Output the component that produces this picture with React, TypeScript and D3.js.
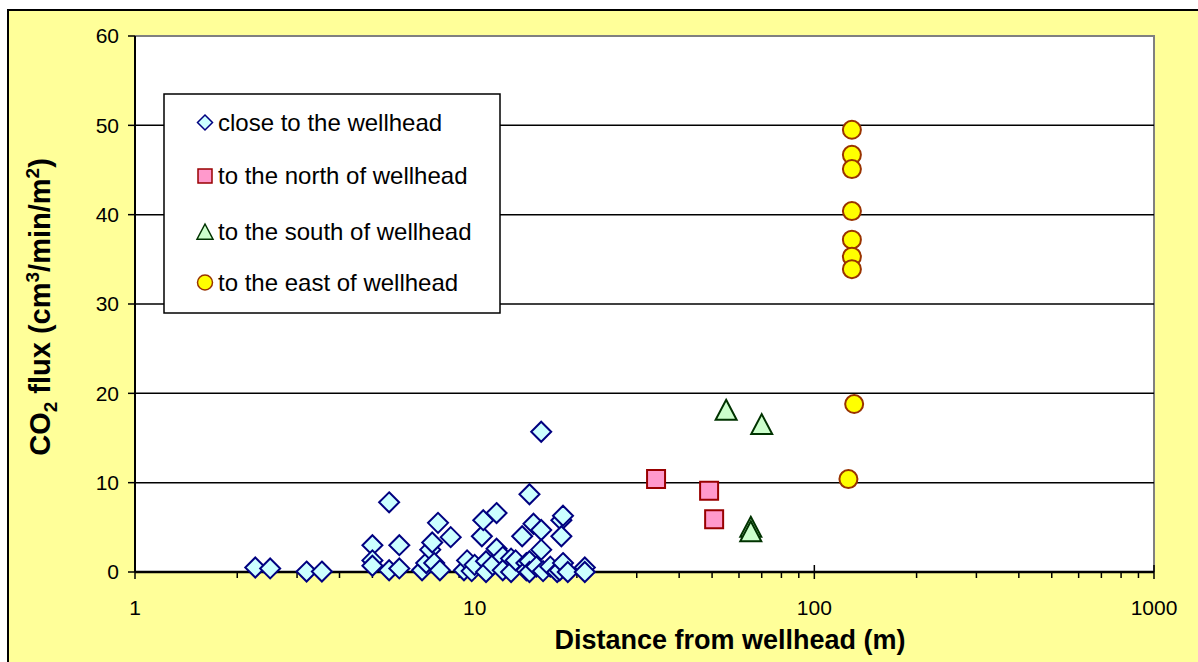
import { useEffect, useRef } from "react";
import * as d3 from "d3";

const W = 1198;
const H = 662;
const PLOT = { left: 135, right: 1154, top: 36, bottom: 572 };
const FONT = "'Liberation Sans', Arial, sans-serif";

// distance (m), flux (cm3/min/m2)
const closeDist = [
  2.26, 2.5, 3.2, 3.55, 5.0, 5.0, 5.0, 5.6, 5.6, 6.0, 6.0, 7.0, 7.2, 7.4, 7.5, 7.6, 7.8, 7.9, 8.5,
  9.3, 9.5, 9.8, 10.0, 10.5, 10.6, 10.8, 10.8, 11.3, 11.6, 11.6, 12.1, 12.1, 12.8, 12.8, 13.2, 13.8,
  14.2, 14.2, 14.5, 14.5, 14.5, 14.9, 15.2, 15.7, 15.7, 15.7, 15.9, 16.7, 17.5, 17.8, 18.0, 18.2,
  18.0, 18.2, 18.8, 21.1, 21.1,
];
const closeFlux = [
  0.5, 0.4, 0.05, 0.05, 3.0, 1.3, 0.7, 7.8, 0.2, 3.0, 0.4, 0.2, 1.0, 2.5, 3.3, 1.0, 5.5, 0.2, 3.9,
  0.2, 1.3, 0.1, 0.8, 4.0, 5.8, 1.2, 0.0, 0.8, 6.6, 2.6, 1.7, 0.2, 1.5, 0.0, 1.3, 4.0,
  1.0, 0.2, 8.7, 1.2, 0.0, 5.4, 0.6, 15.7, 4.7, 2.5, 0.1, 0.6, 0.0, 0.2, 5.8, 6.3,
  4.0, 1.0, 0.0, 0.5, 0.0,
];
const northDist = [34.2, 49, 50.7];
const northFlux = [10.4, 9.1, 5.9];
const southDist = [55, 70, 65, 65];
const southFlux = [18.1, 16.5, 5.0, 4.5];
const eastDist = [129, 129, 129, 129, 129, 129, 129, 131, 126];
const eastFlux = [49.5, 46.7, 45.1, 40.4, 37.2, 35.3, 33.9, 18.8, 10.4];

const yTicks = [0, 10, 20, 30, 40, 50, 60];
const xTicks = [1, 10, 100, 1000];

const legendLabels = [
  "close to the wellhead",
  "to the north of wellhead",
  "to the south of wellhead",
  "to the east of wellhead",
];

const diamond = (s: number) => `M0,${-s}L${s},0L0,${s}L${-s},0Z`;
const square = (s: number) => `M${-s},${-s}H${s}V${s}H${-s}Z`;
const triangle = (s: number) => `M0,${-s}L${s},${s * 0.9}L${-s},${s * 0.9}Z`;

const STYLES = [
  { fill: "#CCFFFF", stroke: "#000080" },
  { fill: "#FF99CC", stroke: "#990000" },
  { fill: "#CCFFCC", stroke: "#003300" },
  { fill: "#FFFF00", stroke: "#993300" },
];

export default function App() {
  const svgRef = useRef<SVGSVGElement | null>(null);

  useEffect(() => {
    const svg = d3.select(svgRef.current);
    svg.selectAll("*").remove();

    const x = d3.scaleLog().domain([1, 1000]).range([PLOT.left, PLOT.right]);
    const y = d3.scaleLinear().domain([0, 60]).range([PLOT.bottom, PLOT.top]);

    // chart frame
    svg
      .append("rect")
      .attr("x", 8)
      .attr("y", 10)
      .attr("width", W + 20)
      .attr("height", H + 20)
      .attr("fill", "#FFFF99")
      .attr("stroke", "#000")
      .attr("stroke-width", 2);

    // plot area
    svg
      .append("rect")
      .attr("x", PLOT.left)
      .attr("y", PLOT.top)
      .attr("width", PLOT.right - PLOT.left)
      .attr("height", PLOT.bottom - PLOT.top)
      .attr("fill", "#fff");
    svg
      .append("path")
      .attr("d", `M${PLOT.left},${PLOT.top}H${PLOT.right}V${PLOT.bottom}`)
      .attr("fill", "none")
      .attr("stroke", "#808080")
      .attr("stroke-width", 2);

    // gridlines
    svg
      .selectAll(".grid")
      .data(yTicks.filter((t) => t > 0 && t < 60))
      .join("line")
      .attr("x1", PLOT.left)
      .attr("x2", PLOT.right)
      .attr("y1", (d) => y(d))
      .attr("y2", (d) => y(d))
      .attr("stroke", "#000")
      .attr("stroke-width", 1.5);

    // y axis
    svg
      .append("line")
      .attr("x1", PLOT.left)
      .attr("x2", PLOT.left)
      .attr("y1", PLOT.top)
      .attr("y2", PLOT.bottom)
      .attr("stroke", "#000")
      .attr("stroke-width", 2);
    svg
      .selectAll(".ytick")
      .data(yTicks)
      .join("line")
      .attr("x1", PLOT.left - 7)
      .attr("x2", PLOT.left)
      .attr("y1", (d) => y(d))
      .attr("y2", (d) => y(d))
      .attr("stroke", "#000")
      .attr("stroke-width", 1.5);
    svg
      .selectAll(".ylab")
      .data(yTicks)
      .join("text")
      .attr("x", PLOT.left - 16)
      .attr("y", (d) => y(d))
      .attr("dy", "0.35em")
      .attr("text-anchor", "end")
      .attr("font-family", FONT)
      .attr("font-size", 21)
      .text((d) => d);

    // x axis
    svg
      .append("line")
      .attr("x1", PLOT.left)
      .attr("x2", PLOT.right)
      .attr("y1", PLOT.bottom)
      .attr("y2", PLOT.bottom)
      .attr("stroke", "#000")
      .attr("stroke-width", 2.5);
    const minor: number[] = [];
    for (let dec = 1; dec < 1000; dec *= 10) for (let k = 2; k < 10; k++) minor.push(dec * k);
    svg
      .selectAll(".xminor")
      .data(minor)
      .join("line")
      .attr("x1", (d) => x(d))
      .attr("x2", (d) => x(d))
      .attr("y1", PLOT.bottom)
      .attr("y2", PLOT.bottom + 6)
      .attr("stroke", "#000")
      .attr("stroke-width", 1.5);
    svg
      .selectAll(".xmajor")
      .data(xTicks)
      .join("line")
      .attr("x1", (d) => x(d))
      .attr("x2", (d) => x(d))
      .attr("y1", PLOT.bottom - 7)
      .attr("y2", PLOT.bottom + 7)
      .attr("stroke", "#000")
      .attr("stroke-width", 1.5);
    svg
      .selectAll(".xlab")
      .data(xTicks)
      .join("text")
      .attr("x", (d) => x(d))
      .attr("y", PLOT.bottom + 36)
      .attr("dy", "0.35em")
      .attr("text-anchor", "middle")
      .attr("font-family", FONT)
      .attr("font-size", 21)
      .text((d) => d);

    // axis titles
    svg
      .append("text")
      .attr("x", 730)
      .attr("y", 640)
      .attr("dy", "0.35em")
      .attr("text-anchor", "middle")
      .attr("font-family", FONT)
      .attr("font-weight", "bold")
      .attr("font-size", 27)
      .text("Distance from wellhead (m)");

    const yt = svg
      .append("text")
      .attr("transform", `translate(40,307) rotate(-90)`)
      .attr("dy", "0.35em")
      .attr("text-anchor", "middle")
      .attr("font-family", FONT)
      .attr("font-weight", "bold")
      .attr("font-size", 29);
    yt.append("tspan").text("CO");
    yt.append("tspan").attr("font-size", 19).attr("dy", 7).text("2");
    yt.append("tspan").attr("dy", -7).text(" flux (cm");
    yt.append("tspan").attr("font-size", 19).attr("dy", -11).text("3");
    yt.append("tspan").attr("dy", 11).text("/min/m");
    yt.append("tspan").attr("font-size", 19).attr("dy", -11).text("2");
    yt.append("tspan").attr("dy", 11).text(")");

    // series
    const series = [
      { xs: closeDist, ys: closeFlux, shape: (s: number) => diamond(s), size: 10 },
      { xs: northDist, ys: northFlux, shape: (s: number) => square(s), size: 9 },
      { xs: southDist, ys: southFlux, shape: (s: number) => triangle(s), size: 10.5 },
      { xs: eastDist, ys: eastFlux, shape: null, size: 9 },
    ];
    series.forEach((s, i) => {
      const pts = s.xs.map((d, j) => [d, s.ys[j]] as [number, number]);
      const g = svg.append("g");
      if (s.shape) {
        g.selectAll("path")
          .data(pts)
          .join("path")
          .attr("transform", (d) => `translate(${x(d[0])},${y(d[1])})`)
          .attr("d", s.shape(s.size))
          .attr("fill", STYLES[i].fill)
          .attr("stroke", STYLES[i].stroke)
          .attr("stroke-width", 2);
      } else {
        g.selectAll("circle")
          .data(pts)
          .join("circle")
          .attr("cx", (d) => x(d[0]))
          .attr("cy", (d) => y(d[1]))
          .attr("r", s.size)
          .attr("fill", STYLES[i].fill)
          .attr("stroke", STYLES[i].stroke)
          .attr("stroke-width", 2);
      }
    });

    // legend
    const lg = svg.append("g");
    lg.append("rect")
      .attr("x", 164)
      .attr("y", 94)
      .attr("width", 336)
      .attr("height", 219)
      .attr("fill", "#fff")
      .attr("stroke", "#000")
      .attr("stroke-width", 1.5);
    const ly = [122.5, 176, 232, 282.5];
    legendLabels.forEach((lab, i) => {
      const cx = 205;
      const cy = ly[i];
      if (i === 0) {
        lg.append("path").attr("transform", `translate(${cx},${cy})`).attr("d", diamond(7.5));
      } else if (i === 1) {
        lg.append("path").attr("transform", `translate(${cx},${cy})`).attr("d", square(7));
      } else if (i === 2) {
        lg.append("path").attr("transform", `translate(${cx},${cy})`).attr("d", triangle(8));
      } else {
        lg.append("circle").attr("cx", cx).attr("cy", cy).attr("r", 7.5);
      }
      lg.select(":last-child")
        .attr("fill", STYLES[i].fill)
        .attr("stroke", STYLES[i].stroke)
        .attr("stroke-width", 1.5);
      lg.append("text")
        .attr("x", 218)
        .attr("y", cy)
        .attr("dy", "0.35em")
        .attr("font-family", FONT)
        .attr("font-size", 24)
        .text(lab);
    });
  }, []);

  return (
    <svg
      ref={svgRef}
      width={W}
      height={H}
      viewBox={`0 0 ${W} ${H}`}
      style={{ position: "absolute", left: 0, top: 0, background: "#fff" }}
    />
  );
}
